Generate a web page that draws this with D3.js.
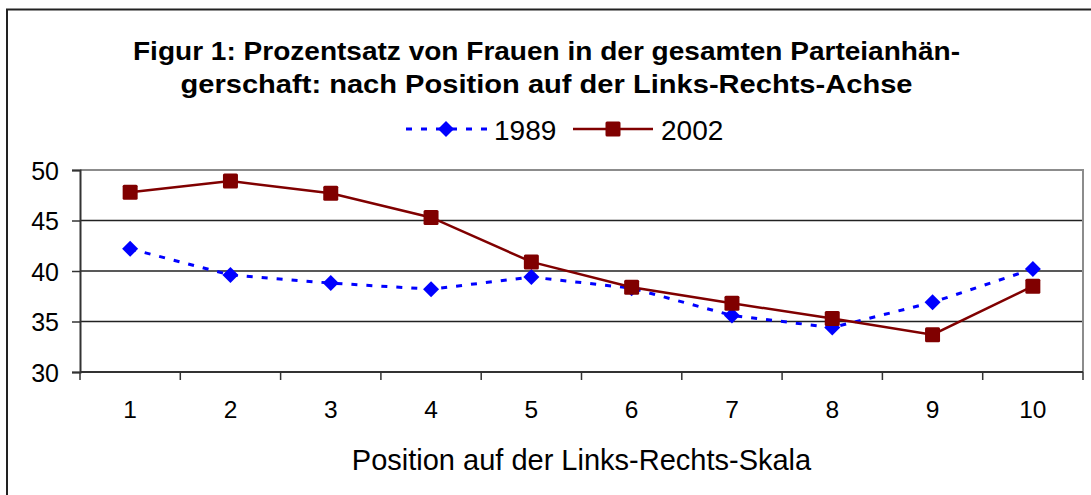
<!DOCTYPE html>
<html>
<head>
<meta charset="utf-8">
<script src="https://cdn.jsdelivr.net/npm/d3@7"></script>
<style>
  body { margin: 0; background: #fff; }
  svg { display: block; font-family: "Liberation Sans", Arial, sans-serif; }
</style>
</head>
<body>
<svg id="chart" width="1091" height="495"></svg>
<script>
const positions = [1, 2, 3, 4, 5, 6, 7, 8, 9, 10];
const values1989 = [42.2, 39.6, 38.8, 38.2, 39.4, 38.3, 35.6, 34.4, 36.9, 40.2];
const values2002 = [47.8, 48.9, 47.7, 45.3, 40.9, 38.4, 36.8, 35.3, 33.7, 38.5];
const yTicks = [30, 35, 40, 45, 50];
const titleLines = ["Figur 1: Prozentsatz von Frauen in der gesamten Parteianhän-",
                    "gerschaft: nach Position auf der Links-Rechts-Achse"];
const xTitle = "Position auf der Links-Rechts-Skala";

const svg = d3.select("#chart");
const plot = { left: 80, right: 1083, top: 170, bottom: 372 };

const x = d3.scaleBand()
    .domain(positions)
    .range([plot.left, plot.right]);

const y = d3.scaleLinear()
    .domain([30, 50])
    .range([plot.bottom, plot.top]);

// outer chart frame
svg.append("path")
    .attr("d", "M7,500 V9.5 H1100")
    .attr("fill", "none")
    .attr("stroke", "#222")
    .attr("stroke-width", 2);

// title (reference glyphs are a bit wider than Liberation, so stretch to fit)
const titleWidths = [827, 732];
svg.append("g")
    .selectAll("text")
    .data(titleLines)
    .join("text")
    .attr("x", (d, i) => 546.5 - titleWidths[i] / 2)
    .attr("y", (d, i) => 60 + i * 33)
    .attr("font-size", 25)
    .attr("font-weight", "bold")
    .attr("fill", "#000")
    .attr("textLength", (d, i) => titleWidths[i])
    .attr("lengthAdjust", "spacingAndGlyphs")
    .text(d => d);

// gridlines
svg.append("g")
    .selectAll("line")
    .data(yTicks.filter(d => d > 30 && d < 50))
    .join("line")
    .attr("x1", plot.left)
    .attr("x2", plot.right)
    .attr("y1", d => y(d))
    .attr("y2", d => y(d))
    .attr("stroke", "#222")
    .attr("stroke-width", 1.5);

// plot border top/right
svg.append("path")
    .attr("d", `M${plot.left},${plot.top} H${plot.right} V${plot.bottom}`)
    .attr("fill", "none")
    .attr("stroke", "#8c8c8c")
    .attr("stroke-width", 2);

// y axis
const yAxis = svg.append("g")
    .attr("transform", `translate(${plot.left},0)`)
    .call(d3.axisLeft(y).tickValues(yTicks).tickSize(8).tickPadding(13));
yAxis.select(".domain").attr("stroke", "#333").attr("stroke-width", 2);
yAxis.selectAll(".tick line").attr("stroke", "#333").attr("stroke-width", 1.5);
yAxis.selectAll(".tick text")
    .attr("font-size", 25)
    .attr("font-family", "Liberation Sans, Arial, sans-serif")
    .attr("dy", "0.36em")
    .attr("fill", "#000");

// x axis with ticks at category boundaries
const xAxisG = svg.append("g")
    .attr("transform", `translate(0,${plot.bottom})`);
xAxisG.append("line")
    .attr("x1", plot.left)
    .attr("x2", plot.right)
    .attr("stroke", "#333")
    .attr("stroke-width", 2);
xAxisG.selectAll(".bound")
    .data(positions.concat([null]))
    .join("line")
    .attr("class", "bound")
    .attr("x1", (d, i) => i < positions.length ? x(d) : plot.right)
    .attr("x2", (d, i) => i < positions.length ? x(d) : plot.right)
    .attr("y1", 0)
    .attr("y2", 8)
    .attr("stroke", "#333")
    .attr("stroke-width", 1.5);
xAxisG.selectAll(".lbl")
    .data(positions)
    .join("text")
    .attr("class", "lbl")
    .attr("x", d => x(d) + x.bandwidth() / 2)
    .attr("y", 46)
    .attr("text-anchor", "middle")
    .attr("font-size", 24.5)
    .attr("fill", "#000")
    .text(d => d);

// x axis title
svg.append("text")
    .attr("x", (plot.left + plot.right) / 2)
    .attr("y", 470)
    .attr("text-anchor", "middle")
    .attr("font-size", 29)
    .attr("fill", "#000")
    .text(xTitle);

const cx = d => x(d) + x.bandwidth() / 2;

const seriesLine = d3.line()
    .x((d, i) => cx(positions[i]))
    .y(d => y(d));

// series 1989
svg.append("path")
    .datum(values1989)
    .attr("d", seriesLine)
    .attr("fill", "none")
    .attr("stroke", "#0000ff")
    .attr("stroke-width", 3)
    .attr("stroke-dasharray", "6,9");

// series 2002
svg.append("path")
    .datum(values2002)
    .attr("d", seriesLine)
    .attr("fill", "none")
    .attr("stroke", "#800000")
    .attr("stroke-width", 2.5);

svg.append("g")
    .selectAll("path")
    .data(values1989)
    .join("path")
    .attr("transform", (d, i) => `translate(${cx(positions[i])},${y(d)})`)
    .attr("d", "M0,-8 L8,0 L0,8 L-8,0 Z")
    .attr("fill", "#0000ff");

svg.append("g")
    .selectAll("rect")
    .data(values2002)
    .join("rect")
    .attr("x", (d, i) => cx(positions[i]) - 7.5)
    .attr("y", d => y(d) - 7.5)
    .attr("width", 15)
    .attr("height", 15)
    .attr("rx", 1.5)
    .attr("fill", "#800000");

// legend
const legend = svg.append("g").attr("transform", "translate(0,129)");
legend.append("line")
    .attr("x1", 406).attr("x2", 487)
    .attr("stroke", "#0000ff").attr("stroke-width", 3)
    .attr("stroke-dasharray", "6,9");
legend.append("path")
    .attr("transform", "translate(446,0)")
    .attr("d", "M0,-8 L8,0 L0,8 L-8,0 Z")
    .attr("fill", "#0000ff");
legend.append("text")
    .attr("x", 494).attr("y", 11)
    .attr("font-size", 28)
    .attr("fill", "#000")
    .text("1989");
legend.append("line")
    .attr("x1", 573).attr("x2", 653)
    .attr("stroke", "#800000").attr("stroke-width", 2.5);
legend.append("rect")
    .attr("x", 613 - 7.5).attr("y", -7.5)
    .attr("width", 15).attr("height", 15)
    .attr("rx", 1.5)
    .attr("fill", "#800000");
legend.append("text")
    .attr("x", 661).attr("y", 11)
    .attr("font-size", 28)
    .attr("fill", "#000")
    .text("2002");
</script>
</body>
</html>
